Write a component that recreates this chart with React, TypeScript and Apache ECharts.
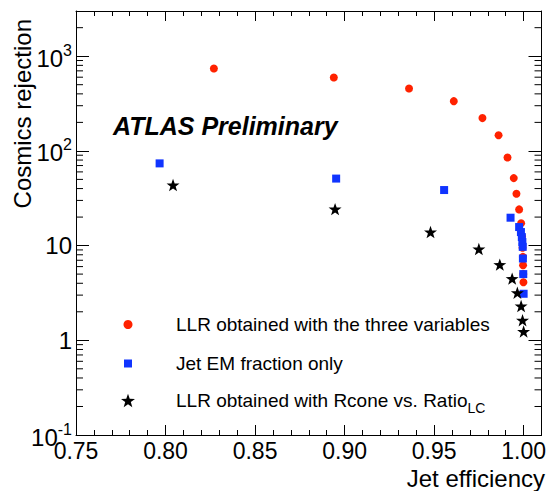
import React, { useEffect, useRef } from "react";
import * as echarts from "echarts";

const FONT = "Liberation Sans";

// LLR obtained with the three variables (red circles)
const llrX = [0.827, 0.894, 0.936, 0.961, 0.977, 0.986, 0.991, 0.9945, 0.996, 0.9975, 0.9986, 0.9991, 0.9994, 0.9996, 0.9997, 0.9998, 0.9999];
const llrY = [741, 596, 456, 335, 222, 146, 85, 51.6, 35.3, 24.1, 17.2, 12.5, 9.5, 7.6, 6.2, 5.0, 4.1];

// Jet EM fraction only (blue squares)
const emX = [0.7967, 0.8953, 0.9556, 0.9927, 0.9975, 0.9985, 0.999, 0.9993, 0.9995, 0.9996, 0.9998, 1.0];
const emY = [73.8, 51, 38.6, 19.7, 15.7, 13.9, 12.3, 10.9, 9.7, 7.3, 5.0, 3.1];

// LLR obtained with Rcone vs. Ratio_LC (black stars)
const rcX = [0.8042, 0.8947, 0.948, 0.975, 0.9867, 0.9936, 0.9965, 0.9986, 0.9994, 1.0];
const rcY = [43.6, 24.3, 13.9, 9.2, 6.3, 4.48, 3.18, 2.3, 1.63, 1.24];

const seriesNames = [
  "LLR obtained with the three variables",
  "Jet EM fraction only",
  "LLR obtained with Rcone vs. Ratio",
];

// log-axis minor tick values (2..9 per decade)
const logMinorTicks = [0.2, 0.3, 0.4, 0.5, 0.6, 0.7, 0.8, 0.9, 2, 3, 4, 5, 6, 7, 8, 9, 20, 30, 40, 50, 60, 70, 80, 90, 200, 300, 400, 500, 600, 700, 800, 900, 2000];

const STAR = "path://M0,-10L2.35,-3.24L9.51,-3.09L3.8,1.24L5.88,8.09L0,4L-5.88,8.09L-3.8,1.24L-9.51,-3.09L-2.35,-3.24Z";

const RED = "#ff2200";
const BLUE = "#1034ff";

const zip = (xs: number[], ys: number[]) => xs.map((x, i) => [x, ys[i]]);

export default function App() {
  const ref = useRef<HTMLDivElement>(null);
  useEffect(() => {
    if (!ref.current) return;
    const chart = echarts.init(ref.current, undefined, { renderer: "svg" });
    const axisLine = { show: true, lineStyle: { color: "#000", width: 1 } };
    const xCommon = {
      type: "value",
      min: 0.75,
      max: 1.01,
      interval: 0.05,
      axisLine,
      splitLine: { show: false },
      axisTick: { show: true, inside: true, length: 10, lineStyle: { color: "#000" } },
      minorTick: { show: true, splitNumber: 5, length: 5, lineStyle: { color: "#000" } },
    };
    const yCommon = {
      type: "log",
      logBase: 10,
      min: 0.1,
      max: 3000,
      axisLine,
      splitLine: { show: false },
      axisTick: { show: true, inside: true, length: 13, lineStyle: { color: "#000" } },
    };
    const legendBase = (name: string, icon: string, top: number, w: number, h: number) => ({
      data: [{ name, icon }],
      left: 128 - w / 2,
      top,
      orient: "vertical",
      padding: 0,
      itemWidth: w,
      itemHeight: h,
      selectedMode: false,
      formatter: (n: string) => (n === seriesNames[2] ? n + "{sub|LC}" : n),
      textStyle: {
        fontFamily: FONT,
        fontSize: 19,
        color: "#000",
        padding: [0, 0, 0, 176 - 128 - w / 2 - 5],
        rich: {
          sub: { fontFamily: FONT, fontSize: 14, color: "#000", verticalAlign: "bottom", padding: [14, 0, 0, 0] },
        },
      },
    });
    const option: any = {
      animation: false,
      grid: { left: 76, right: 3, top: 11, bottom: 56 },
      xAxis: [
        {
          ...xCommon,
          position: "bottom",
          axisLabel: {
            fontFamily: FONT,
            fontSize: 23,
            lineHeight: 22,
            color: "#000",
            margin: 5,
            showMaxLabel: false,
            formatter: (v: number) => v.toFixed(2),
          },
        },
        { ...xCommon, position: "top", axisLabel: { show: false } },
      ],
      yAxis: [
        {
          ...yCommon,
          position: "left",
          axisLabel: {
            margin: 4,
            showMaxLabel: false,
            formatter: (v: number) => {
              const e = Math.round(Math.log10(v));
              if (e === 0) return "{n|1}";
              if (e === 1) return "{n|10}";
              return "{n|10}{sup|" + e + "}";
            },
            rich: {
              n: { fontFamily: FONT, fontSize: 24, color: "#000", verticalAlign: "bottom" },
              sup: { fontFamily: FONT, fontSize: 16, color: "#000", verticalAlign: "top", padding: [0, 0, 12, 0] },
            },
          },
        },
        { ...yCommon, position: "right", axisLabel: { show: false } },
      ],
      legend: [
        legendBase(seriesNames[0], "circle", 315, 9, 9),
        legendBase(seriesNames[1], "rect", 354, 8, 8),
        legendBase(seriesNames[2], STAR, 391, 14, 14),
      ],
      series: [
        {
          type: "custom",
          name: "minorTicks",
          silent: true,
          xAxisIndex: 0,
          yAxisIndex: 0,
          data: logMinorTicks.map((v) => [0.75, v]),
          encode: { x: 0, y: 1 },
          renderItem: (params: any, api: any) => {
            const y = api.coord([0.75, api.value(1)])[1];
            const cs = params.coordSys;
            return {
              type: "group",
              children: [
                { type: "line", shape: { x1: cs.x, y1: y, x2: cs.x + 7, y2: y }, style: { stroke: "#000", lineWidth: 1 } },
                { type: "line", shape: { x1: cs.x + cs.width - 7, y1: y, x2: cs.x + cs.width, y2: y }, style: { stroke: "#000", lineWidth: 1 } },
              ],
            };
          },
        },
        {
          type: "scatter",
          name: seriesNames[0],
          data: zip(llrX, llrY),
          symbol: "circle",
          symbolSize: 8,
          itemStyle: { color: RED, opacity: 1 },
        },
        {
          type: "scatter",
          name: seriesNames[1],
          data: zip(emX, emY),
          symbol: "rect",
          symbolSize: 8,
          itemStyle: { color: BLUE, opacity: 1 },
        },
        {
          type: "scatter",
          name: seriesNames[2],
          data: zip(rcX, rcY),
          symbol: STAR,
          symbolKeepAspect: true,
          symbolSize: 13,
          itemStyle: { color: "#000", opacity: 1 },
        },
      ],
      graphic: [
        {
          type: "text",
          x: 113,
          y: 126,
          style: {
            text: "ATLAS Preliminary",
            fontFamily: FONT,
            fontSize: 25,
            fontWeight: "bold",
            fontStyle: "italic",
            fill: "#000",
            textAlign: "left",
            textVerticalAlign: "middle",
          },
        },
        {
          type: "text",
          x: 22,
          y: 19,
          rotation: Math.PI / 2,
          style: {
            text: "Cosmics rejection",
            fontFamily: FONT,
            fontSize: 24,
            fill: "#000",
            textAlign: "right",
            textVerticalAlign: "middle",
          },
        },
        {
          type: "text",
          x: 545,
          y: 478,
          style: {
            text: "Jet efficiency",
            fontFamily: FONT,
            fontSize: 24,
            lineHeight: 22,
            fill: "#000",
            textAlign: "right",
            textVerticalAlign: "middle",
          },
        },
      ],
    };
    chart.setOption(option);
    return () => chart.dispose();
  }, []);
  return <div ref={ref} style={{ position: "absolute", left: 0, top: 0, width: 549, height: 491 }} />;
}
